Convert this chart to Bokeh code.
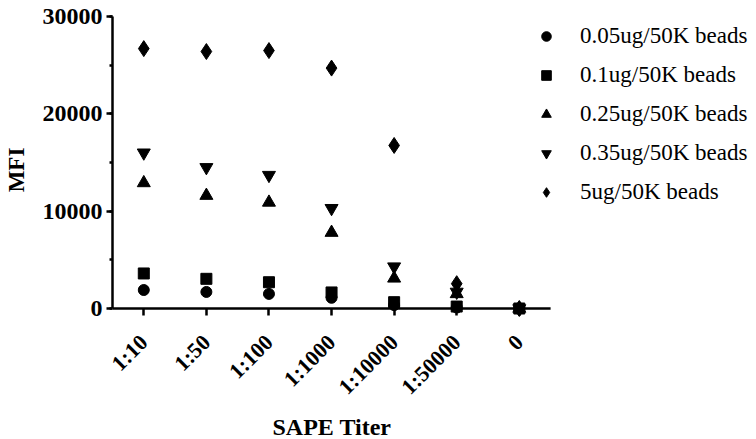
import math

from bokeh.embed import file_html
from bokeh.models import (ColumnDataSource, FixedTicker, Legend, LegendItem,
                          Range1d, SingleIntervalTicker, Title)
from bokeh.plotting import figure
from bokeh.resources import INLINE

# SAPE dilutions on the x axis
titers = ["1:10", "1:50", "1:100", "1:1000", "1:10000", "1:50000", "0"]

# MFI per bead coating concentration
mfi_005 = [1900, 1700, 1500, 1100, 350, 100, 0]
mfi_01 = [3600, 3050, 2700, 1650, 650, 200, 0]
mfi_025 = [12900, 11600, 10900, 7800, 3100, 1500, 0]
mfi_035 = [16000, 14500, 13700, 10300, 4300, 1700, 0]
mfi_5 = [26700, 26400, 26500, 24700, 16750, 2550, 0]

series_labels = ["0.05ug/50K beads", "0.1ug/50K beads", "0.25ug/50K beads",
                 "0.35ug/50K beads", "5ug/50K beads"]

# each titer gets one slot on a numeric x scale
pos = list(range(len(titers)))

source = ColumnDataSource(dict(
    pos=pos, c005=mfi_005, c01=mfi_01, c025=mfi_025,
    c035=mfi_035, c5=mfi_5,
))

SERIF = "Liberation Serif"

# The frame runs to the right edge so the legend can sit inside it, and a
# little below zero so markers at MFI = 0 are not cut in half.
p = figure(
    width=756, height=439,
    x_range=Range1d(-0.5, 9.79),
    y_range=Range1d(-1541, 30000),
    output_backend="svg", toolbar_location=None,
    min_border_left=111, min_border_right=0,
    min_border_top=16, min_border_bottom=116,
)
p.outline_line_color = None
p.grid.visible = False
p.background_fill_color = "white"
p.border_fill_color = "white"

# y axis: 0-30000 with a minor tick between majors
ya = p.yaxis[0]
ya.ticker = SingleIntervalTicker(interval=10000, num_minor_ticks=2)
ya.bounds = (0, 30000)
ya.axis_label = "MFI"
ya.axis_label_text_font = SERIF
ya.axis_label_text_font_style = "bold"
ya.axis_label_text_font_size = "23px"
ya.axis_label_standoff = 11
ya.major_label_text_font = SERIF
ya.major_label_text_font_style = "bold"
ya.major_label_text_font_size = "24px"
ya.major_label_standoff = 4
ya.axis_line_width = 2.5
ya.major_tick_line_width = 2.5
ya.minor_tick_line_width = 2.5
ya.major_tick_out = 6
ya.major_tick_in = 0
ya.minor_tick_out = 3
ya.minor_tick_in = 0
ya.axis_line_color = "black"
ya.major_label_text_color = "black"
ya.axis_label_text_color = "black"

# x axis: ticks are pulled up so they hang from the MFI = 0 baseline
xa = p.xaxis[0]
xa.bounds = (-0.5, len(titers) - 0.5)
xa.ticker = FixedTicker(ticks=pos, minor_ticks=[])
xa.major_label_overrides = {i: t for i, t in zip(pos, titers)}
xa.major_label_text_font = SERIF
xa.major_label_text_font_style = "bold"
xa.major_label_text_font_size = "22px"
xa.major_label_orientation = math.pi / 4
xa.major_label_standoff = 15
xa.axis_line_color = None
xa.major_tick_line_width = 2.5
xa.major_tick_line_color = "black"
xa.major_tick_in = 15
xa.major_tick_out = -8
xa.minor_tick_out = 0
xa.minor_tick_in = 0
xa.major_label_text_color = "black"

# baseline of the x axis at MFI = 0, spanning the titer slots
p.line(x=[pos[0] - 0.5, pos[-1] + 0.5], y=[0, 0],
       line_color="black", line_width=2.5)

common = dict(source=source, x="pos", fill_color="black", line_color="black")
r005 = p.scatter(y="c005", marker="circle", size=11, **common)
r01 = p.scatter(y="c01", marker="square", size=11, **common)
r025 = p.scatter(y="c025", marker="triangle", size=13, **common)
r035 = p.scatter(y="c035", marker="inverted_triangle", size=13, **common)
r5 = p.scatter(y="c5", marker="diamond", size=16, **common)

# x axis title, centred under the titer slots
p.add_layout(Title(text="SAPE Titer", align="left", offset=160,
                   text_font=SERIF, text_font_style="bold",
                   text_font_size="24px", text_color="black",
                   standoff=0), "below")

legend = Legend(
    items=[LegendItem(label=lab, renderers=[r])
           for lab, r in zip(series_labels, [r005, r01, r025, r035, r5])],
    location=(422, 118),
    orientation="vertical",
    label_text_font=SERIF,
    label_text_font_size="23px",
    label_text_color="black",
    glyph_width=24, glyph_height=24,
    label_height=26, label_standoff=22,
    spacing=13, padding=0, margin=0,
    border_line_color=None, background_fill_alpha=0,
)
p.add_layout(legend, "center")

open("out.html", "w").write(file_html(p, INLINE))
